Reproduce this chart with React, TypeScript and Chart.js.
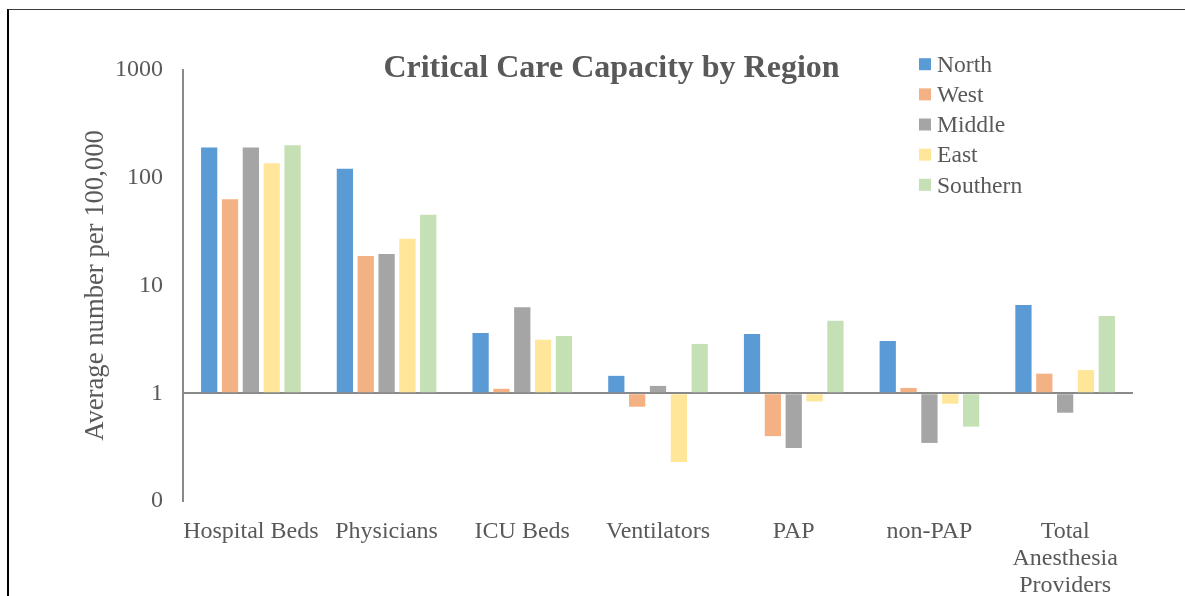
import React, { useEffect, useRef } from "react";
import { Chart, registerables } from "chart.js";

Chart.register(...registerables);

// ---- Data ----
const categories: (string | string[])[] = [
  "Hospital Beds",
  "Physicians",
  "ICU Beds",
  "Ventilators",
  "PAP",
  "non-PAP",
  ["Total", "Anesthesia", "Providers"],
];
const seriesNames = ["North", "West", "Middle", "East", "Southern"];
const seriesColors = ["#5B9BD5", "#F4B183", "#A5A5A5", "#FFE699", "#C5E0B4"];

const north = [191, 121, 3.63, 1.45, 3.55, 3.06, 6.6];
const west = [63, 18.8, 1.1, 0.75, 0.4, 1.12, 1.52];
const middle = [191, 19.6, 6.28, 1.17, 0.31, 0.346, 0.66];
const east = [136, 27.1, 3.13, 0.23, 0.84, 0.8, 1.64];
const southern = [200, 45.3, 3.4, 2.87, 4.72, 0.49, 5.2];

const yTickValues = [0.1, 1, 10, 100, 1000];
const yTickLabels = ["0", "1", "10", "100", "1000"];

const titleText = "Critical Care Capacity by Region";
const yAxisTitle = "Average number per 100,000";

const FONT = "'Liberation Serif', 'Times New Roman', serif";
const TEXT = "#595959";
const AXIS = "#898989";

export default function App() {
  const ref = useRef<HTMLCanvasElement>(null);

  useEffect(() => {
    if (!ref.current) return;
    const seriesValues = [north, west, middle, east, southern];

    const overlay = {
      id: "overlay",
      afterDraw(chart: any) {
        const ctx = chart.ctx;
        ctx.save();
        ctx.fillStyle = TEXT;
        ctx.font = `bold 32px ${FONT}`;
        ctx.textAlign = "center";
        ctx.textBaseline = "alphabetic";
        ctx.fillText(titleText, 611.5, 77);
        ctx.font = `23.6px ${FONT}`;
        ctx.textAlign = "left";
        chart.data.datasets.forEach((ds: any, i: number) => {
          const cy = 64.2 + i * 30.15;
          ctx.fillStyle = ds.backgroundColor;
          ctx.fillRect(919, cy - 6, 12, 12);
          ctx.fillStyle = TEXT;
          ctx.fillText(ds.label, 937, cy + 7.8);
        });
        ctx.restore();
      },
    };

    const chart = new Chart(ref.current, {
      type: "bar",
      data: {
        labels: categories,
        datasets: seriesNames.map((name, i) => ({
          label: name,
          data: seriesValues[i],
          backgroundColor: seriesColors[i],
          borderWidth: 0,
          base: 1,
          barPercentage: 0.78,
          categoryPercentage: 0.768,
        })),
      },
      options: {
        responsive: false,
        animation: false,
        devicePixelRatio: 1,
        layout: { padding: { top: 70, right: 52, left: 0, bottom: 0 } },
        plugins: {
          legend: { display: false },
          title: { display: false },
          tooltip: { enabled: false },
        },
        scales: {
          x: {
            type: "category",
            grid: { display: false, drawTicks: false },
            border: { display: false },
            ticks: {
              color: TEXT,
              font: { family: FONT, size: 24, lineHeight: 1.13 },
              padding: 17,
              maxRotation: 0,
              autoSkip: false,
            },
            afterFit: (s: any) => {
              s.height = 95;
            },
          },
          y: {
            type: "logarithmic",
            min: 0.1,
            max: 1000,
            afterBuildTicks: (s: any) => {
              s.ticks = yTickValues.map((v) => ({ value: v }));
            },
            ticks: {
              color: TEXT,
              font: { family: FONT, size: 24 },
              padding: 20,
              callback: (_v: any, idx: number) => yTickLabels[idx],
            },
            grid: {
              drawTicks: false,
              lineWidth: 2,
              color: (c: any) =>
                c.tick && c.tick.value === 1 ? AXIS : "rgba(0,0,0,0)",
            },
            border: { display: true, color: AXIS, width: 2 },
            title: {
              display: true,
              text: yAxisTitle,
              color: TEXT,
              font: { family: FONT, size: 26.7 },
              padding: { top: 80, bottom: 0 },
            },
            afterFit: (s: any) => {
              s.width = 183;
            },
          },
        },
      },
      plugins: [overlay],
    });
    return () => chart.destroy();
  }, []);

  return (
    <div style={{ position: "fixed", left: 0, top: 0, width: 1185, height: 596 }}>
      <div
        style={{
          position: "absolute",
          left: 7,
          top: 9,
          width: 1178,
          height: 587,
          borderLeft: "2px solid #000",
          borderTop: "1px solid #3c3c3c",
          boxSizing: "border-box",
        }}
      />
      <canvas
        ref={ref}
        width={1185}
        height={596}
        style={{ position: "absolute", left: 0, top: 0, width: 1185, height: 596 }}
      />
    </div>
  );
}
